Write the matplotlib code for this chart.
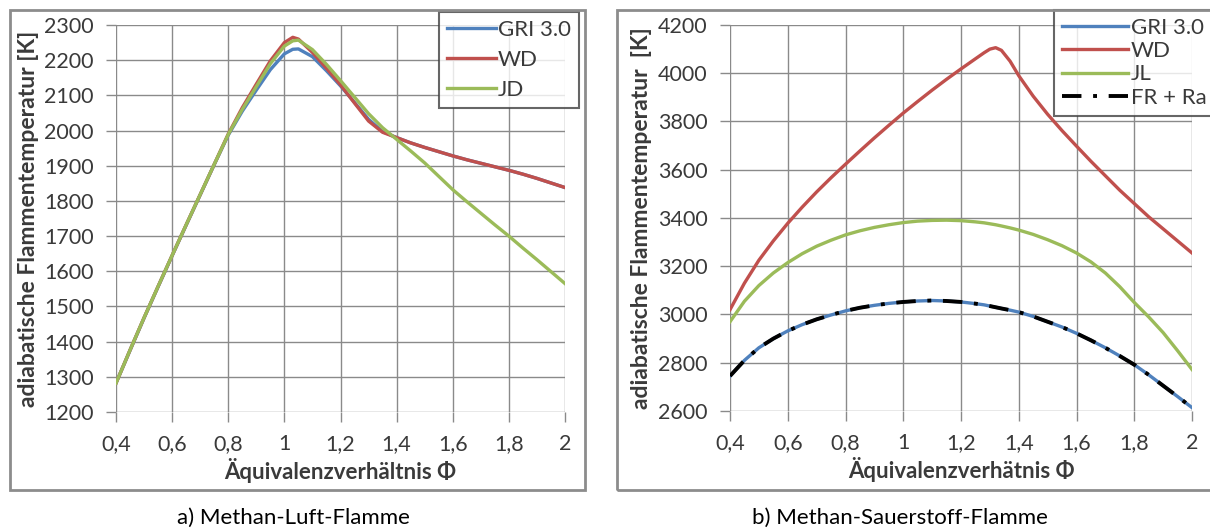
import numpy as np
import matplotlib
matplotlib.use("Agg")
import matplotlib.pyplot as plt
from matplotlib.patches import Rectangle

plt.rcParams['font.family'] = ['Lato', 'DejaVu Sans']

# --- a) Methan-Luft-Flamme ---
phi_a = [0.4, 0.45, 0.5, 0.55, 0.6, 0.65, 0.7, 0.75, 0.8, 0.85, 0.9, 0.95, 1.0, 1.03,
         1.05, 1.1, 1.15, 1.2, 1.25, 1.3, 1.35, 1.4, 1.45, 1.5, 1.55, 1.6, 1.65, 1.7,
         1.75, 1.8, 1.85, 1.9, 1.95, 2.0]
gri_a = [1282, 1375, 1467, 1556, 1644, 1731, 1817, 1903, 1987, 2055, 2115, 2173, 2218, 2231,
         2232, 2210, 2170, 2127, 2080, 2032, 1997, 1980, 1965, 1952, 1940, 1928, 1917, 1907,
         1897, 1887, 1876, 1864, 1851, 1838]
wd_a = [1282, 1376, 1468, 1557, 1645, 1732, 1818, 1904, 1990, 2065, 2132, 2198, 2250, 2265,
        2260, 2222, 2177, 2130, 2078, 2027, 1995, 1980, 1965, 1952, 1940, 1928, 1917, 1907,
        1897, 1887, 1876, 1864, 1851, 1838]
jd_a = [1282, 1376, 1468, 1557, 1645, 1732, 1818, 1904, 1989, 2060, 2125, 2190, 2240, 2255,
        2257, 2230, 2188, 2142, 2095, 2048, 2008, 1975, 1942, 1908, 1870, 1832, 1798, 1765,
        1732, 1700, 1666, 1633, 1599, 1565]

# --- b) Methan-Sauerstoff-Flamme ---
phi_b = [0.4, 0.45, 0.5, 0.55, 0.6, 0.65, 0.7, 0.75, 0.8, 0.85, 0.9, 0.95, 1.0, 1.05,
         1.1, 1.15, 1.2, 1.25, 1.28, 1.3, 1.32, 1.34, 1.37, 1.4, 1.45, 1.5, 1.55, 1.6,
         1.65, 1.7, 1.75, 1.8, 1.85, 1.9, 1.95, 2.0]
gri_b = [2745, 2810, 2862, 2900, 2932, 2958, 2980, 2998, 3015, 3028, 3038, 3046, 3052, 3056,
         3058, 3056, 3052, 3045, 3040, 3035, 3030, 3025, 3018, 3010, 2992, 2970, 2948, 2922,
         2893, 2862, 2828, 2792, 2750, 2705, 2660, 2614]
wd_b = [3020, 3130, 3225, 3305, 3378, 3445, 3508, 3567, 3623, 3678, 3732, 3784, 3835, 3883,
        3930, 3975, 4018, 4060, 4085, 4100, 4106, 4095, 4050, 3990, 3905, 3830, 3762, 3698,
        3635, 3575, 3515, 3460, 3405, 3355, 3305, 3255]
jl_b = [2970, 3055, 3120, 3172, 3215, 3252, 3283, 3308, 3330, 3347, 3361, 3372, 3381, 3387,
        3390, 3391, 3389, 3384, 3380, 3376, 3372, 3367, 3359, 3350, 3332, 3310, 3285, 3255,
        3218, 3172, 3115, 3050, 2990, 2925, 2850, 2772]
frra_b = gri_b

xticks = [0.4, 0.6, 0.8, 1.0, 1.2, 1.4, 1.6, 1.8, 2.0]
xticklabels = ["0,4", "0,6", "0,8", "1", "1,2", "1,4", "1,6", "1,8", "2"]

c_blue, c_red, c_green = "#4F81BD", "#C0504D", "#9BBB59"
grid_c = "#8a8a8a"
txt_c = "#3a3a3a"
W, H = 1210, 531

fig = plt.figure(figsize=(W / 100, H / 100), dpi=100)

def style(ax, yticks, ylabel, xlabel):
    ax.set_xlim(0.4, 2.0)
    ax.set_ylim(yticks[0], yticks[-1])
    ax.set_xticks(xticks)
    ax.set_xticklabels(xticklabels)
    ax.set_yticks(yticks)
    ax.grid(True, color=grid_c, lw=1)
    for s in ax.spines.values():
        s.set_visible(False)
    ax.tick_params(direction='out', length=7, width=1, color=grid_c,
                   labelsize=15.5, labelcolor=txt_c, pad=9)
    ax.set_ylabel(ylabel, fontsize=16.5, fontweight='bold', color=txt_c, labelpad=4)
    ax.set_xlabel(xlabel, fontsize=16, fontweight='bold', color=txt_c, labelpad=3)

lw = 2.4

ax1 = fig.add_axes([116 / W, 1 - 412 / H, 449 / W, 387 / H])
ax1.plot(phi_a, gri_a, color=c_blue, lw=lw, label="GRI 3.0")
ax1.plot(phi_a, wd_a, color=c_red, lw=lw, label="WD")
ax1.plot(phi_a, jd_a, color=c_green, lw=lw, label="JD")
style(ax1, list(range(1200, 2301, 100)), "adiabatische Flammentemperatur [K]",
      "Äquivalenzverhältnis Φ")

ax2 = fig.add_axes([730 / W, 1 - 411 / H, 462 / W, 386 / H])
ax2.plot(phi_b, gri_b, color=c_blue, lw=lw, label="GRI 3.0")
ax2.plot(phi_b, wd_b, color=c_red, lw=lw, label="WD")
ax2.plot(phi_b, jl_b, color=c_green, lw=lw, label="JL")
ax2.plot(phi_b, frra_b, color="black", lw=2.8, linestyle=(0, (5, 3, 1, 3)), label="FR + Ra")
style(ax2, list(range(2600, 4201, 200)), "adiabatische Flammentemperatur  [K]",
      "Äquivalenzverhätnis Φ")

for ax, anchor, hl, ls in [(ax1, (439 / W, 1 - 12 / H), 2.2, 0.45),
                           (ax2, (1054 / W, 1 - 10 / H), 3.0, 0.15)]:
    leg = ax.legend(loc='upper left', bbox_to_anchor=anchor,
                    bbox_transform=fig.transFigure, fontsize=16,
                    frameon=True, fancybox=False, borderaxespad=0,
                    handlelength=hl, handletextpad=0.1, labelspacing=ls,
                    borderpad=0.35)
    leg.get_frame().set_edgecolor("#404040")
    leg.get_frame().set_linewidth(1.5)
    for t in leg.get_texts():
        t.set_color(txt_c)

# outer chart borders
fig.add_artist(Rectangle((10 / W, 1 - 490 / H), 575 / W, 480 / H, transform=fig.transFigure,
                         fill=False, edgecolor="#8c8c8c", lw=2))
fig.add_artist(Rectangle((617 / W, 1 - 490 / H), 600 / W, 480 / H, transform=fig.transFigure,
                         fill=False, edgecolor="#8c8c8c", lw=2))

fig.text(293 / W, 1 - 518 / H, "a) Methan-Luft-Flamme", ha='center', va='center',
         fontsize=16, color="black")
fig.text(900 / W, 1 - 518 / H, "b) Methan-Sauerstoff-Flamme", ha='center', va='center',
         fontsize=16, color="black")

fig.savefig("out.png", dpi=100)
